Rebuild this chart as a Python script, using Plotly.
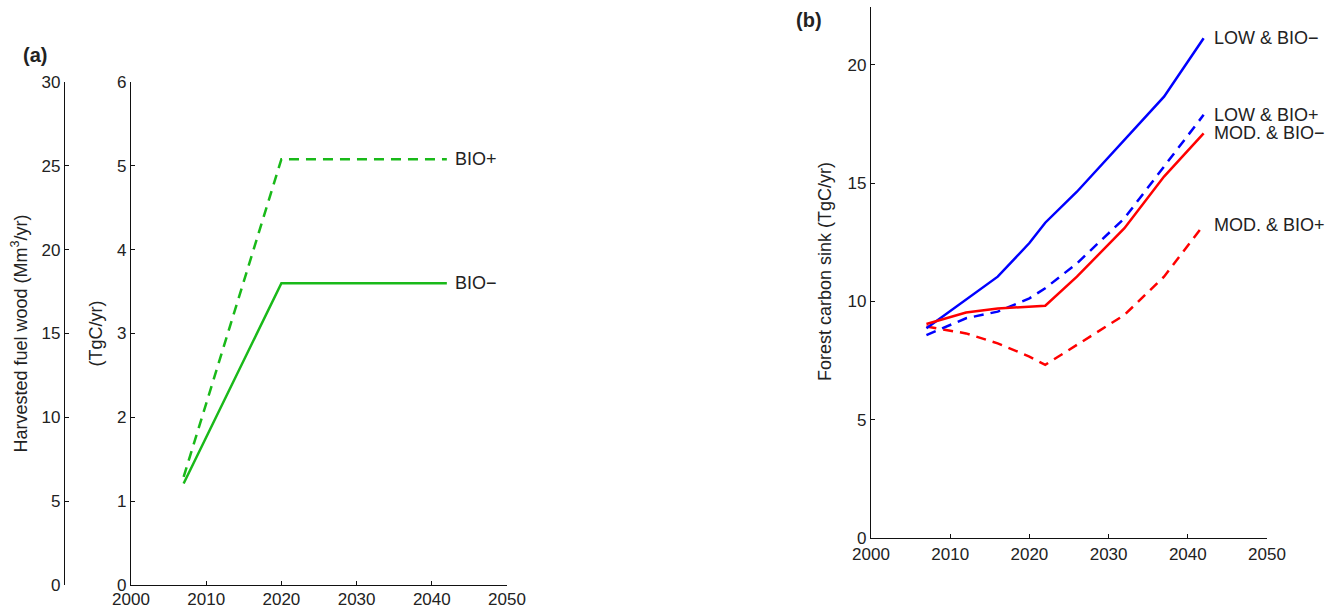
import plotly.graph_objects as go

# ---------------- data ----------------
# Panel (a): harvested fuel wood (TgC/yr)
years_a = [2007, 2020, 2042]
bio_minus = [1.21, 3.60, 3.60]
bio_plus = [1.29, 5.08, 5.08]

# Panel (b): forest carbon sink (TgC/yr)
years_b = [2007, 2012, 2016, 2020, 2022, 2026, 2032, 2037, 2042]
low_bio_minus = [8.87, 10.06, 11.05, 12.47, 13.33, 14.64, 16.83, 18.66, 21.13]
low_bio_plus = [8.58, 9.29, 9.57, 10.13, 10.56, 11.61, 13.52, 15.70, 17.89]
mod_bio_minus = [9.05, 9.53, 9.70, 9.77, 9.82, 11.05, 13.10, 15.28, 17.11]
mod_bio_plus = [8.94, 8.65, 8.23, 7.67, 7.32, 8.16, 9.43, 11.05, 13.23]

x_ticks = [2000, 2010, 2020, 2030, 2040, 2050]
tgc_ticks_a = [0, 1, 2, 3, 4, 5, 6]
mm3_ticks_a = [0, 5, 10, 15, 20, 25, 30]
sink_ticks_b = [0, 5, 10, 15, 20]

# ---------------- layout helpers ----------------
W, H = 1333, 608
FONT = "Liberation Sans, Arial, Helvetica, sans-serif"
TXT = "#222222"
GREEN = "rgb(25,185,25)"
BLUE = "rgb(0,0,255)"
RED = "rgb(255,0,0)"
DASH = "10px,7px"
LW = 2.5
TICK_SIZE = 17
LABEL_SIZE = 18


def px(x):
    return x / W


def py(y):
    return 1 - y / H


axis_style = dict(
    showline=True, linecolor="#111111", linewidth=1.4,
    ticks="inside", ticklen=4, tickwidth=1.2, tickcolor="#111111",
    showgrid=False, zeroline=False, automargin=False,
    tickfont=dict(family=FONT, size=TICK_SIZE, color=TXT),
)

fig = go.Figure()

# Panel (a)
fig.add_trace(go.Scatter(x=years_a, y=bio_plus, mode="lines", xaxis="x", yaxis="y",
                         line=dict(color=GREEN, width=LW, dash=DASH), hoverinfo="skip"))
fig.add_trace(go.Scatter(x=years_a, y=bio_minus, mode="lines", xaxis="x", yaxis="y",
                         line=dict(color=GREEN, width=LW), hoverinfo="skip"))
fig.add_trace(go.Scatter(x=[2000], y=[0], mode="lines", xaxis="x", yaxis="y3",
                         line=dict(width=0), showlegend=False, hoverinfo="skip"))

# Panel (b)
fig.add_trace(go.Scatter(x=years_b, y=mod_bio_plus, mode="lines", xaxis="x2", yaxis="y2",
                         line=dict(color=RED, width=LW, dash=DASH), hoverinfo="skip"))
fig.add_trace(go.Scatter(x=years_b, y=low_bio_plus, mode="lines", xaxis="x2", yaxis="y2",
                         line=dict(color=BLUE, width=LW, dash=DASH), hoverinfo="skip"))
fig.add_trace(go.Scatter(x=years_b, y=low_bio_minus, mode="lines", xaxis="x2", yaxis="y2",
                         line=dict(color=BLUE, width=LW), hoverinfo="skip"))
fig.add_trace(go.Scatter(x=years_b, y=mod_bio_minus, mode="lines", xaxis="x2", yaxis="y2",
                         line=dict(color=RED, width=LW), hoverinfo="skip"))

annotations = []


def label(text, x, y, xref, yref, size=LABEL_SIZE, **kw):
    d = dict(text=text, x=x, y=y, xref=xref, yref=yref, showarrow=False,
             font=dict(family=FONT, size=size, color=TXT))
    d.update(kw)
    annotations.append(d)


# line labels (a)
label("BIO+", 2042.8, bio_plus[-1], "x", "y", xanchor="left", yanchor="middle")
label("BIO\u2212", 2042.8, bio_minus[-1], "x", "y", xanchor="left", yanchor="middle")

# line labels (b)
label("LOW &amp; BIO\u2212", 2043.1, low_bio_minus[-1], "x2", "y2", xanchor="left", yanchor="middle")
label("LOW &amp; BIO+", 2043.1, low_bio_plus[-1], "x2", "y2", xanchor="left", yanchor="middle")
label("MOD. &amp; BIO\u2212", 2043.1, mod_bio_minus[-1], "x2", "y2", xanchor="left", yanchor="middle")
label("MOD. &amp; BIO+", 2043.1, mod_bio_plus[-1], "x2", "y2", xanchor="left", yanchor="middle")

# axis titles
label("Harvested fuel wood (Mm<sup>3</sup>/yr)", px(20), py(333.5), "paper", "paper",
      textangle=-90, xanchor="center", yanchor="middle")
label("(TgC/yr)", px(95), py(333.5), "paper", "paper",
      textangle=-90, xanchor="center", yanchor="middle")
label("Forest carbon sink (TgC/yr)", px(825), py(272), "paper", "paper",
      textangle=-90, xanchor="center", yanchor="middle")

# panel letters
label("<b>(a)</b>", px(35), py(55), "paper", "paper", size=20,
      xanchor="center", yanchor="middle")
label("<b>(b)</b>", px(809), py(20), "paper", "paper", size=20,
      xanchor="center", yanchor="middle")

xa_style = dict(axis_style)
xa_style["ticklabelstandoff"] = -2

fig.update_layout(
    width=W, height=H,
    margin=dict(l=0, r=0, t=0, b=0, autoexpand=False),
    paper_bgcolor="white", plot_bgcolor="white",
    showlegend=False,
    font=dict(family=FONT, color=TXT),
    xaxis=dict(domain=[px(131), px(507)], anchor="y", range=[2000, 2050],
               tickvals=x_ticks, **xa_style),
    yaxis=dict(domain=[py(585), py(82)], anchor="x", range=[0, 6],
               tickvals=tgc_ticks_a, **axis_style),
    yaxis3=dict(overlaying="y", anchor="free", position=px(64), side="left",
                range=[0, 30], tickvals=mm3_ticks_a, **axis_style),
    xaxis2=dict(domain=[px(871), px(1267)], anchor="y2", range=[2000, 2050],
                tickvals=x_ticks, **axis_style),
    yaxis2=dict(domain=[py(538), py(7)], anchor="x2", range=[0, 22.45],
                tickvals=sink_ticks_b, **axis_style),
    annotations=annotations,
)

fig.write_html("out.html")
